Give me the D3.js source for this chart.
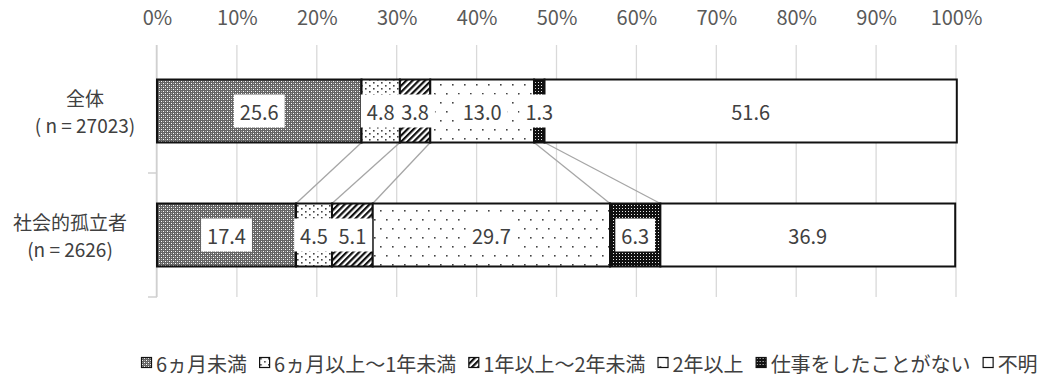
<!DOCTYPE html>
<html><head><meta charset="utf-8">
<script src="https://cdn.jsdelivr.net/npm/d3@7"></script>
<style>
html,body{margin:0;padding:0;background:#fff;}
svg text{font-family:"Noto Sans CJK JP","Noto Sans",sans-serif;}
</style></head>
<body><svg id="chart" width="1037" height="379"></svg>
<script>
const categories = ["全体", "社会的孤立者"];
const categorySubs = ["( n = 27023)", "(n = 2626)"];
const seriesNames = ["6ヵ月未満", "6ヵ月以上～1年未満", "1年以上～2年未満", "2年以上", "仕事をしたことがない", "不明"];
const valuesOverall = [25.6, 4.8, 3.8, 13.0, 1.3, 51.6];
const valuesIsolated = [17.4, 4.5, 5.1, 29.7, 6.3, 36.9];
const xTicks = [0, 10, 20, 30, 40, 50, 60, 70, 80, 90, 100];
const tickLabels = ["0%", "10%", "20%", "30%", "40%", "50%", "60%", "70%", "80%", "90%", "100%"];

(function () {
const seriesValues = [valuesOverall, valuesIsolated];
const svg = d3.select("#chart");
const FS = 20;

// patterns
const defs = svg.append("defs");
function pat(id, w, h, build, transform) {
  const p = defs.append("pattern").attr("id", id).attr("patternUnits", "userSpaceOnUse")
    .attr("width", w).attr("height", h);
  if (transform) p.attr("patternTransform", transform);
  build(p);
}
pat("p0", 4, 4, p => {
  p.append("rect").attr("width", 4).attr("height", 4).attr("fill", "#646464");
  p.append("rect").attr("x", 1).attr("y", 1).attr("width", 1).attr("height", 1).attr("fill", "#ffffff");
  p.append("rect").attr("x", 3).attr("y", 3).attr("width", 1).attr("height", 1).attr("fill", "#ffffff");
  p.append("rect").attr("x", 1).attr("y", 3).attr("width", 1).attr("height", 1).attr("fill", "#a8a8a8");
  p.append("rect").attr("x", 3).attr("y", 1).attr("width", 1).attr("height", 1).attr("fill", "#a8a8a8");
});
pat("p1", 8, 6, p => {
  p.append("rect").attr("width", 8).attr("height", 6).attr("fill", "#fff");
  p.append("rect").attr("x", 1).attr("y", 1).attr("width", 1.6).attr("height", 1.6).attr("fill", "#444");
  p.append("rect").attr("x", 5).attr("y", 4).attr("width", 1.6).attr("height", 1.6).attr("fill", "#444");
});
pat("p2", 4.4, 10, p => {
  p.append("rect").attr("width", 4.4).attr("height", 10).attr("fill", "#fff");
  p.append("rect").attr("x", 0).attr("y", 0).attr("width", 2.2).attr("height", 10).attr("fill", "#111");
}, "rotate(45)");
pat("p3", 12, 18, p => {
  p.append("rect").attr("width", 12).attr("height", 18).attr("fill", "#fff");
  p.append("rect").attr("x", 2).attr("y", 3).attr("width", 1.6).attr("height", 1.6).attr("fill", "#444");
  p.append("rect").attr("x", 8).attr("y", 12).attr("width", 1.6).attr("height", 1.6).attr("fill", "#444");
});
pat("p4", 3, 3, p => {
  p.append("rect").attr("width", 3).attr("height", 3).attr("fill", "#111");
  p.append("rect").attr("x", 1).attr("y", 1).attr("width", 1).attr("height", 1).attr("fill", "#e8e8e8");
});
const fills = ["url(#p0)", "url(#p1)", "url(#p2)", "url(#p3)", "url(#p4)", "#ffffff"];

// scales
const x = d3.scaleLinear().domain([0, 100]).range([157, 956]);
const y = d3.scaleBand().domain(categories).range([49, 297]).paddingInner(0.492).paddingOuter(0.246);
const bw = y.bandwidth();
const yTop = y.range()[0], yBottom = y.range()[1];

// gridlines
svg.append("g").selectAll("line").data(xTicks).join("line")
  .attr("x1", d => x(d)).attr("x2", d => x(d))
  .attr("y1", yTop - 4).attr("y2", yBottom)
  .attr("stroke", "#d9d9d9").attr("stroke-width", 1.3);

// x axis labels
const xAxis = d3.axisTop(x).tickValues(xTicks).tickSize(0).tickPadding(0)
  .tickFormat((d, i) => tickLabels[i]);
const gx = svg.append("g").attr("transform", "translate(0,25)").call(xAxis);
gx.select(".domain").remove();
gx.selectAll("text").attr("font-size", FS).attr("fill", "#595959")
  .style("font-family", '"Noto Sans CJK JP", sans-serif');

// left axis line with ticks at category boundaries
const boundaries = categories.map(c => y(c) + bw + y.step() * y.paddingInner() / 2);
boundaries[boundaries.length - 1] = yBottom;
const gy = svg.append("g");
gy.append("line").attr("x1", x(0) - 0.5).attr("x2", x(0) - 0.5).attr("y1", yTop - 4).attr("y2", yBottom)
  .attr("stroke", "#d0d0d0").attr("stroke-width", 1.5);
gy.selectAll("line.tk").data(boundaries).join("line").attr("class", "tk")
  .attr("x1", x(0) - 9).attr("x2", x(0)).attr("y1", d => d).attr("y2", d => d)
  .attr("stroke", "#d0d0d0").attr("stroke-width", 1.5);

// category labels
categories.forEach((c, i) => {
  const cy = y(c) + bw / 2;
  const cx = i === 0 ? 85 : 70;
  svg.append("text").attr("x", cx).attr("y", cy - 13.5).attr("text-anchor", "middle")
    .attr("dominant-baseline", "central").attr("font-size", 19).attr("fill", "#404040").text(c);
  svg.append("text").attr("x", cx).attr("y", cy + 13.5).attr("text-anchor", "middle")
    .attr("dominant-baseline", "central").attr("font-size", 19).attr("fill", "#404040").text(categorySubs[i]);
});

// stacked data
const stacks = seriesValues.map(vals => {
  let acc = 0;
  return vals.map(v => { const s = acc; acc += v; return [s, acc]; });
});

// series lines
const linesData = d3.range(seriesNames.length - 1).map(k => ({
  x1: x(stacks[0][k][1]), x2: x(stacks[1][k][1])
}));
svg.append("g").selectAll("line").data(linesData).join("line")
  .attr("x1", d => d.x1).attr("x2", d => d.x2)
  .attr("y1", y(categories[0]) + bw).attr("y2", y(categories[1]))
  .attr("stroke", "#a6a6a6").attr("stroke-width", 1.3);

// bars
categories.forEach((c, ci) => {
  const g = svg.append("g");
  g.selectAll("rect").data(stacks[ci]).join("rect")
    .attr("x", d => x(d[0])).attr("y", y(c))
    .attr("width", d => x(d[1]) - x(d[0])).attr("height", bw)
    .attr("fill", (d, i) => fills[i])
    .attr("stroke", "#111").attr("stroke-width", 2);
});

// data labels
const fmt = d3.format(".1f");
categories.forEach((c, ci) => {
  const cy = y(c) + bw / 2;
  stacks[ci].forEach((d, i) => {
    const cx = (x(d[0]) + x(d[1])) / 2;
    const g = svg.append("g");
    const rect = g.append("rect").attr("fill", "#fff");
    const t = g.append("text").attr("x", cx).attr("y", cy).attr("text-anchor", "middle")
      .attr("dominant-baseline", "central").attr("font-size", FS).attr("fill", "#404040")
      .text(fmt(seriesValues[ci][i]));
    const bb = t.node().getBBox();
    rect.attr("x", cx - bb.width / 2 - 6).attr("y", cy - 16.5).attr("width", bb.width + 12).attr("height", 33);
  });
});

// legend
const lg = svg.append("g").attr("transform", "translate(141,363)");
let lx = 0;
seriesNames.forEach((n, i) => {
  const item = lg.append("g").attr("transform", `translate(${lx},0)`);
  item.append("rect").attr("x", 0.5).attr("y", -5.5).attr("width", 10).attr("height", 10)
    .attr("fill", fills[i]).attr("stroke", "#111").attr("stroke-width", 1.2);
  const t = item.append("text").attr("x", 15).attr("y", 0).attr("dominant-baseline", "central")
    .attr("font-size", FS).attr("fill", "#404040").text(n);
  lx += 15 + t.node().getComputedTextLength() + 12;
});
})();
</script></body></html>
